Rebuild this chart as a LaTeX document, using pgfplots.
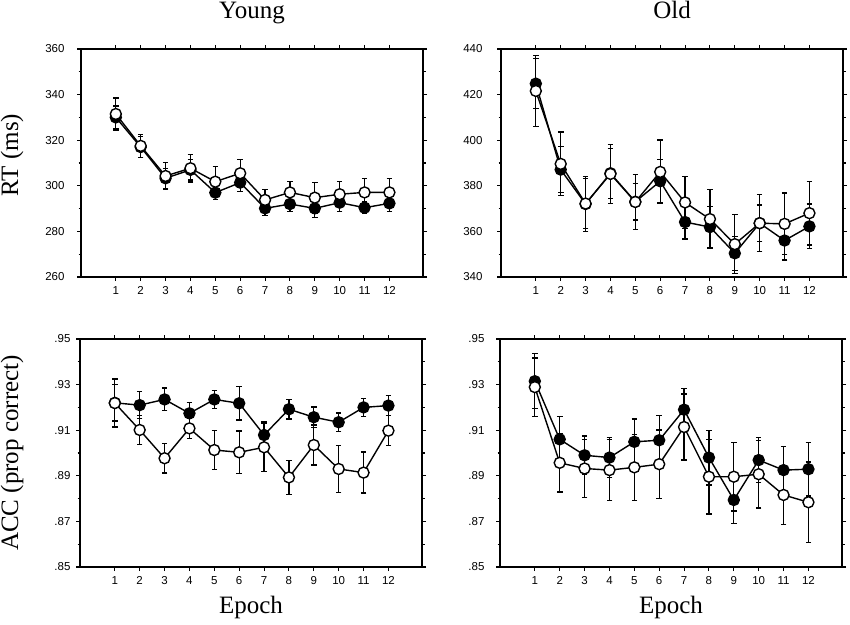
\documentclass[border=0pt]{standalone}
\usepackage{fontspec}
\setmainfont{Liberation Serif}
\setsansfont{Liberation Sans}
\usepackage{pgfplots}
\pgfplotsset{compat=1.18}

\pgfplotsset{
  panel/.style={
    scale only axis, width=342pt, height=228pt,
    xmin=-0.4, xmax=13.35, xtick={1,...,12},
    tick align=outside, xtick pos=both, ytick pos=both,
    minor y tick num=1,
    major tick length=4pt, minor tick length=2.5pt,
    every tick/.style={black, line width=1.1pt},
    axis line style={line width=1.3pt},
    tick label style={font=\fontsize{11.5}{13}\selectfont\sffamily},
    xticklabel style={yshift=-2pt},
    /pgf/number format/assume math mode=true,
    title style={font=\fontsize{25}{30}\selectfont, at={(0.5,1)}, anchor=base, yshift=24pt},
    label style={font=\fontsize{25}{30}\selectfont},
  },
  filled/.style={black, line width=1.4pt, mark=*, mark size=5.5pt,
    mark options={fill=black, solid},
    error bars/.cd, y dir=both, y explicit,
    error bar style={line width=1.3pt},
    error mark options={rotate=90, mark size=2.8pt, line width=1.3pt}},
  open/.style={black, line width=1.4pt, mark=*, mark size=5.5pt,
    mark options={fill=white, solid},
    error bars/.cd, y dir=both, y explicit,
    error bar style={line width=1.3pt},
    error mark options={rotate=90, mark size=2.8pt, line width=1.3pt}},
}

\begin{document}
\begin{tikzpicture}
\useasboundingbox (0pt,0pt) rectangle (850pt,624pt);

% Young, RT
\begin{axis}[panel, at={(81pt,347pt)},
    ymin=260, ymax=360, ytick={260,280,...,360},
    yticklabel style={xshift=-9pt},
    title={Young},
    ylabel={RT (ms)},
    ylabel style={at={(axis description cs:-0.184,0.535)}, anchor=base}]
\addplot[filled] coordinates {
 (1,330) +- (0,5) (2,317) +- (0,4.5) (3,303.3) +- (0,4.4) (4,307) +- (0,4.5)
 (5,297) +- (0,3) (6,301.4) +- (0,4) (7,290.1) +- (0,3) (8,292) +- (0,3.4)
 (9,290.1) +- (0,4) (10,292.6) +- (0,4) (11,290.4) +- (0,2.5) (12,292.3) +- (0,3.7)};
\addplot[open] coordinates {
 (1,331.5) +- (0,7) (2,317.5) +- (0,5) (3,304.3) +- (0,6) (4,307.7) +- (0,6)
 (5,301.8) +- (0,6.6) (6,305.5) +- (0,6) (7,293.8) +- (0,4.7) (8,297.1) +- (0,4.7)
 (9,294.8) +- (0,6.7) (10,296.3) +- (0,5.5) (11,297.1) +- (0,6.2) (12,297.1) +- (0,6.2)};
\end{axis}

% Old, RT
\begin{axis}[panel, at={(501pt,347pt)},
    ymin=340, ymax=440, ytick={340,360,...,440},
    yticklabel style={xshift=-11pt},
    title={Old}]
\addplot[filled] coordinates {
 (1,424.8) +- (0,11) (2,387.1) +- (0,10) (3,372) +- (0,12) (4,385.5) +- (0,11)
 (5,373) +- (0,8) (6,382) +- (0,9.5) (7,364.1) +- (0,7.5) (8,361.9) +- (0,9)
 (9,350.4) +- (0,7.5) (10,363.6) +- (0,8) (11,356) +- (0,8.5) (12,362.2) +- (0,9.8)};
\addplot[open] coordinates {
 (1,421.6) +- (0,15.5) (2,389.6) +- (0,14) (3,372.2) +- (0,11) (4,385.2) +- (0,13)
 (5,372.9) +- (0,12) (6,386.1) +- (0,14) (7,372.7) +- (0,11.5) (8,365.4) +- (0,13)
 (9,354.4) +- (0,13) (10,363.6) +- (0,12.5) (11,363.3) +- (0,13.5) (12,368) +- (0,14)};
\end{axis}

% Young, ACC
\begin{axis}[panel, at={(80pt,57pt)},
    ymin=0.85, ymax=0.95, ytick={0.85,0.87,0.89,0.91,0.93,0.95},
    yticklabels={.85,.87,.89,.91,.93,.95},
    yticklabel style={xshift=-2pt},
    xlabel={Epoch},
    xlabel style={at={(axis description cs:0.5,-0.206)}, anchor=base},
    ylabel={ACC (prop correct)},
    ylabel style={at={(axis description cs:-0.181,0.5)}, anchor=base}]
\addplot[filled] coordinates {
 (1,0.922) +- (0,0.008) (2,0.921) +- (0,0.006) (3,0.9235) +- (0,0.005) (4,0.9174) +- (0,0.0048)
 (5,0.9235) +- (0,0.004) (6,0.9218) +- (0,0.0073) (7,0.9079) +- (0,0.0058) (8,0.9192) +- (0,0.0043)
 (9,0.9157) +- (0,0.0045) (10,0.9135) +- (0,0.004) (11,0.9200) +- (0,0.004) (12,0.9208) +- (0,0.0043)};
\addplot[open] coordinates {
 (1,0.9219) +- (0,0.0105) (2,0.9101) +- (0,0.0065) (3,0.8977) +- (0,0.0065) (4,0.9108) +- (0,0.0043)
 (5,0.9013) +- (0,0.0086) (6,0.9003) +- (0,0.0094) (7,0.9025) +- (0,0.0107) (8,0.8893) +- (0,0.0075)
 (9,0.9035) +- (0,0.0088) (10,0.8930) +- (0,0.0103) (11,0.8914) +- (0,0.009) (12,0.9098) +- (0,0.0066)};
\end{axis}

% Old, ACC
\begin{axis}[panel, at={(500pt,57pt)},
    ymin=0.85, ymax=0.95, ytick={0.85,0.87,0.89,0.91,0.93,0.95},
    yticklabels={.85,.87,.89,.91,.93,.95},
    yticklabel style={xshift=-8pt},
    xlabel={Epoch},
    xlabel style={at={(axis description cs:0.5,-0.206)}, anchor=base}]
\addplot[filled] coordinates {
 (1,0.9315) +- (0,0.012) (2,0.906) +- (0,0.010) (3,0.899) +- (0,0.0085) (4,0.898) +- (0,0.0088)
 (5,0.9049) +- (0,0.010) (6,0.9056) +- (0,0.011) (7,0.919) +- (0,0.0092) (8,0.898) +- (0,0.012)
 (9,0.8794) +- (0,0.0104) (10,0.8969) +- (0,0.0099) (11,0.8925) +- (0,0.0105) (12,0.8929) +- (0,0.0117)};
\addplot[open] coordinates {
 (1,0.9289) +- (0,0.0128) (2,0.8957) +- (0,0.0128) (3,0.8932) +- (0,0.0127) (4,0.8925) +- (0,0.0133)
 (5,0.8937) +- (0,0.0145) (6,0.8951) +- (0,0.015) (7,0.9114) +- (0,0.0145) (8,0.8896) +- (0,0.0163)
 (9,0.8896) +- (0,0.015) (10,0.8907) +- (0,0.0148) (11,0.8816) +- (0,0.013) (12,0.8784) +- (0,0.0176)};
\end{axis}
\end{tikzpicture}
\end{document}
